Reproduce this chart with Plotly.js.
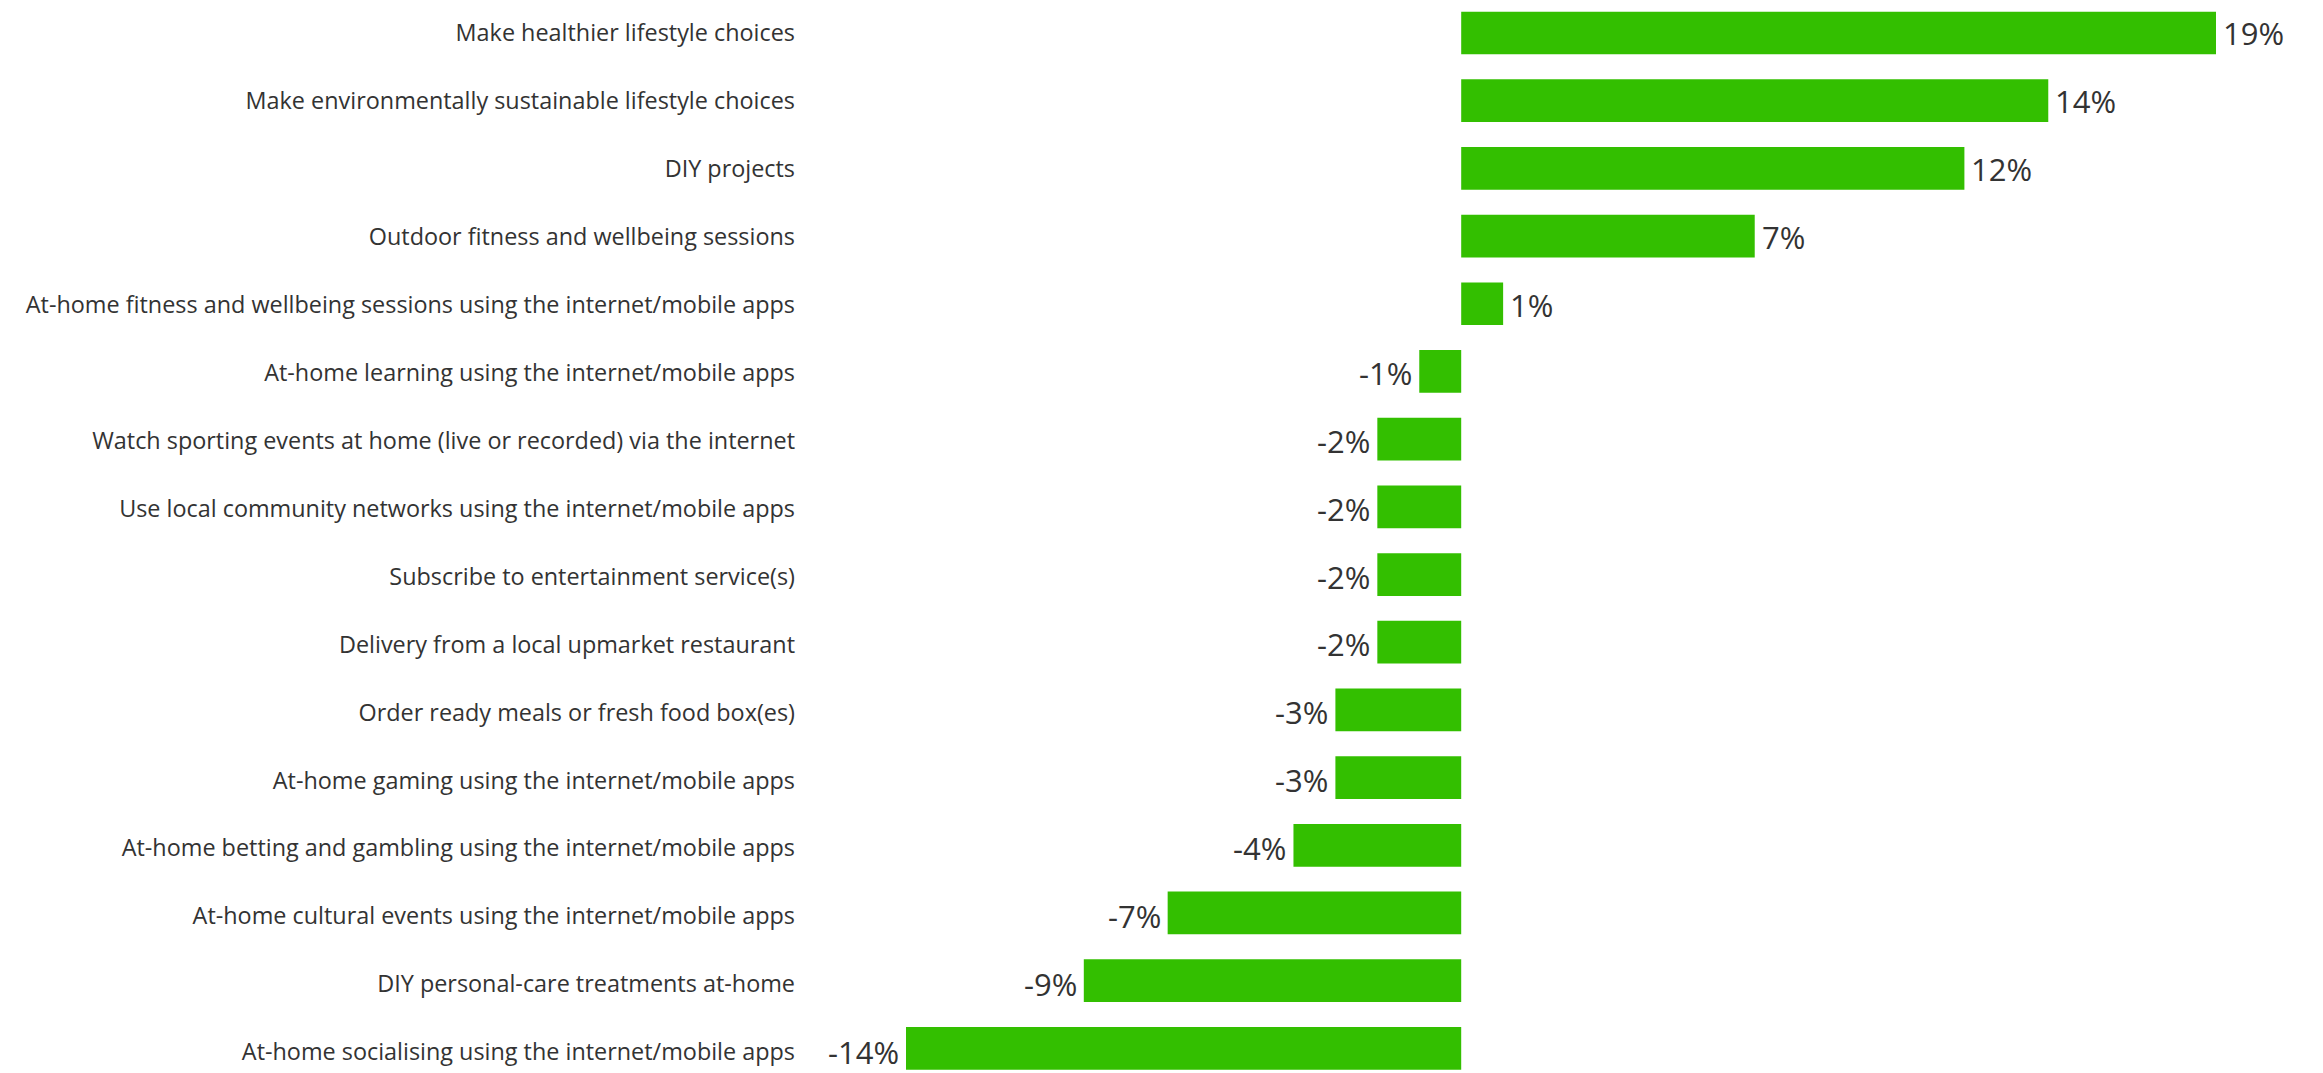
<!DOCTYPE html>
<html>
<head>
<meta charset="utf-8">
<script src="https://cdn.plot.ly/plotly-3.0.1.min.js"></script>
<style>
  html, body { margin: 0; padding: 0; background: #ffffff; }
  #chart { width: 2323px; height: 1073px; }
</style>
</head>
<body>
<div id="chart"></div>
<script>
// Categories, top to bottom
const categories = [
  "Make healthier lifestyle choices",
  "Make environmentally sustainable lifestyle choices",
  "DIY projects",
  "Outdoor fitness and wellbeing sessions",
  "At-home fitness and wellbeing sessions using the internet/mobile apps",
  "At-home learning using the internet/mobile apps",
  "Watch sporting events at home (live or recorded) via the internet",
  "Use local community networks using the internet/mobile apps",
  "Subscribe to entertainment service(s)",
  "Delivery from a local upmarket restaurant",
  "Order ready meals or fresh food box(es)",
  "At-home gaming using the internet/mobile apps",
  "At-home betting and gambling using the internet/mobile apps",
  "At-home cultural events using the internet/mobile apps",
  "DIY personal-care treatments at-home",
  "At-home socialising using the internet/mobile apps"
];

// Net change (%)
const values = [19, 14, 12, 7, 1, -1, -2, -2, -2, -2, -3, -3, -4, -7, -9, -14];

// Value labels as printed
const valueLabels = values.map(v => v + "%");

// Visible value window of the axis (the longest bars run past it and are cut)
const xRange = [-13.24, 18];

const bars = {
  type: "bar",
  orientation: "h",
  y: categories,
  x: values,
  xaxis: "x",
  yaxis: "y",
  marker: { color: "#33BF00", line: { width: 0 } },
  hoverinfo: "skip"
};

// Invisible trace that carries the category labels on the label axis
const labelCarrier = {
  type: "scatter",
  mode: "markers",
  y: categories,
  x: values.map(v => 0),
  xaxis: "x",
  yaxis: "y2",
  marker: { opacity: 0, size: 1 },
  hoverinfo: "skip"
};

// Value labels placed at the visible end of each bar
const annotations = values.map((v, i) => ({
  xref: "x",
  yref: "y2",
  x: Math.max(xRange[0], Math.min(xRange[1], v)),
  y: categories[i],
  text: valueLabels[i],
  showarrow: false,
  xanchor: v >= 0 ? "left" : "right",
  yanchor: "middle",
  xshift: v >= 0 ? 5 : -5,
  font: { family: "Open Sans", size: 31, color: "#333333" }
}));

const layout = {
  width: 2323,
  height: 1073,
  margin: { l: 906, r: 107, t: 0, b: 0, pad: 0 },
  paper_bgcolor: "#ffffff",
  plot_bgcolor: "#ffffff",
  showlegend: false,
  bargap: 0.369,
  font: { family: "Open Sans", color: "#333333" },
  annotations: annotations,
  xaxis: {
    range: xRange,
    showgrid: false,
    zeroline: false,
    showline: false,
    showticklabels: false,
    ticks: ""
  },
  yaxis: {
    type: "category",
    categoryorder: "array",
    categoryarray: categories,
    range: [15.364, -0.4875],
    showgrid: false,
    zeroline: false,
    showline: false,
    showticklabels: false,
    ticks: ""
  },
  yaxis2: {
    type: "category",
    overlaying: "y",
    side: "left",
    categoryorder: "array",
    categoryarray: categories,
    range: [15.31, -0.49],
    showgrid: false,
    zeroline: false,
    showline: false,
    ticks: "",
    ticklabelstandoff: 110,
    tickfont: { family: "Open Sans", size: 23.4, color: "#333333" }
  }
};

Plotly.newPlot("chart", [bars, labelCarrier], layout, { staticPlot: true, displayModeBar: false });
</script>
</body>
</html>
